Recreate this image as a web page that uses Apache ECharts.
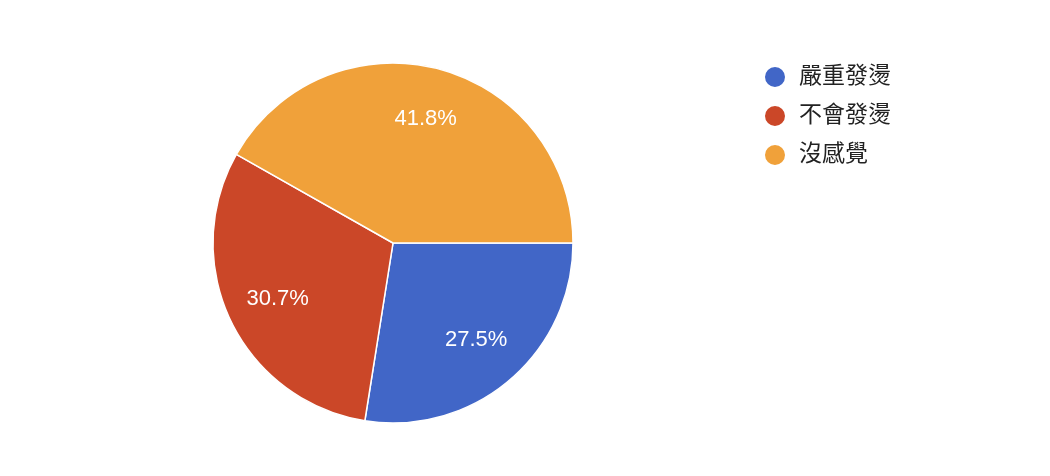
<!DOCTYPE html>
<html><head><meta charset="utf-8">
<script src="https://cdn.jsdelivr.net/npm/echarts@6/dist/echarts.min.js"></script>
<style>html,body{margin:0;padding:0;background:#fff}#c{width:1050px;height:476px}</style>
</head><body><div id="c"></div>
<script>
const categories = ['嚴重發燙', '不會發燙', '沒感覺'];
const values = [27.5, 30.7, 41.8];
const colors = ['#4166c7', '#cb4728', '#f0a13a'];

const data = categories.map((n, i) => ({ name: n, value: values[i], itemStyle: { color: colors[i] } }));
const chart = echarts.init(document.getElementById('c'));
chart.setOption({
  animation: false,
  legend: {
    orient: 'vertical', left: 758, top: 60,
    icon: 'circle', itemWidth: 22, itemHeight: 22, itemGap: 15,
    textStyle: { fontSize: 23, lineHeight: 22, color: '#222', fontFamily: 'Liberation Sans, Arial, "Noto Sans CJK TC", sans-serif', padding: [0, 0, 0, 8] },
    data: categories
  },
  series: [
    {
      type: 'pie', center: [393, 243], radius: 180, startAngle: 0, clockwise: true,
      label: { show: false }, labelLine: { show: false },
      itemStyle: { borderColor: '#fff', borderWidth: 1.5 },
      data: data
    },
    {
      type: 'pie', center: [393, 243], radius: [70, 180], startAngle: 0, clockwise: true,
      silent: true, legendHoverLink: false,
      itemStyle: { color: 'transparent', borderWidth: 0 },
      label: { show: true, position: 'inside', formatter: p => p.value.toFixed(1) + '%', color: '#fff', fontSize: 22, fontFamily: 'Liberation Sans, Arial, sans-serif' },
      labelLine: { show: false },
      data: categories.map((n, i) => ({ name: n + ' ', value: values[i] }))
    }
  ]
});
</script></body></html>
